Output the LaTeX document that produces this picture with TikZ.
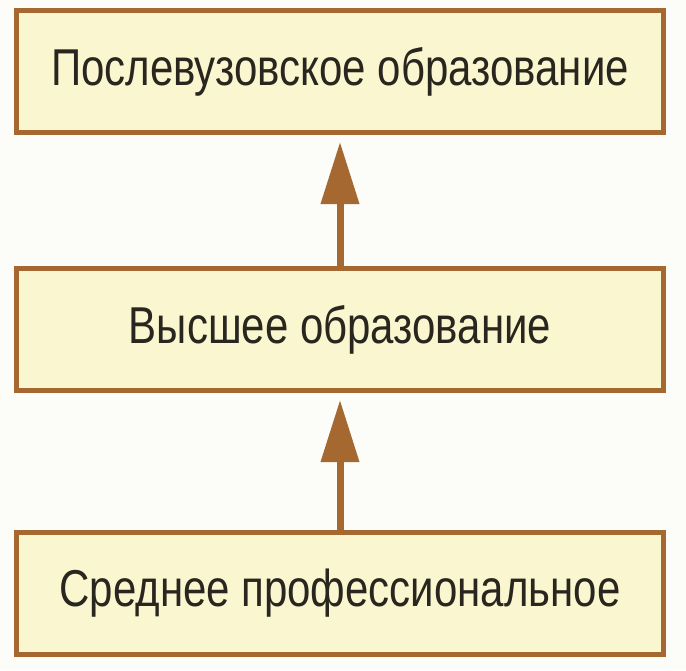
\documentclass[tikz,border=0pt]{standalone}
\usepackage{fontspec}
\setmainfont[FakeStretch=0.81]{Liberation Sans}
\usepackage{xcolor}
\usepackage{tikz}
\usetikzlibrary{arrows.meta,positioning}
\definecolor{framebrown}{RGB}{164,104,48}
\definecolor{boxyellow}{RGB}{250,247,208}
\definecolor{paperwhite}{RGB}{252,252,248}
\definecolor{textdark}{RGB}{40,38,30}

\begin{document}
\begin{tikzpicture}[
  box/.style={rectangle,draw=framebrown,fill=boxyellow,line width=0.1cm,
    minimum width=12.94cm,minimum height=2.44cm,text=textdark,
    font=\fontsize{29.5}{32}\selectfont},
  arrow/.style={-{Triangle[length=1.24cm,width=0.74cm]},line width=0.14cm,
    color=framebrown,shorten >=0.14cm}
]
\fill[paperwhite] (0,0) rectangle (13.72,-13.4);
\useasboundingbox (0,0) rectangle (13.72,-13.4);
\node[box] (post) at (6.8,-1.43) {Послевузовское образование};
\node[box, below=2.62cm of post] (high) {Высшее образование};
\node[box, below=2.74cm of high] (mid) {Среднее профессиональное};

\foreach \s/\t in {high/post,mid/high}
  \draw[arrow] (\s) -- (\t);
\end{tikzpicture}
\end{document}
